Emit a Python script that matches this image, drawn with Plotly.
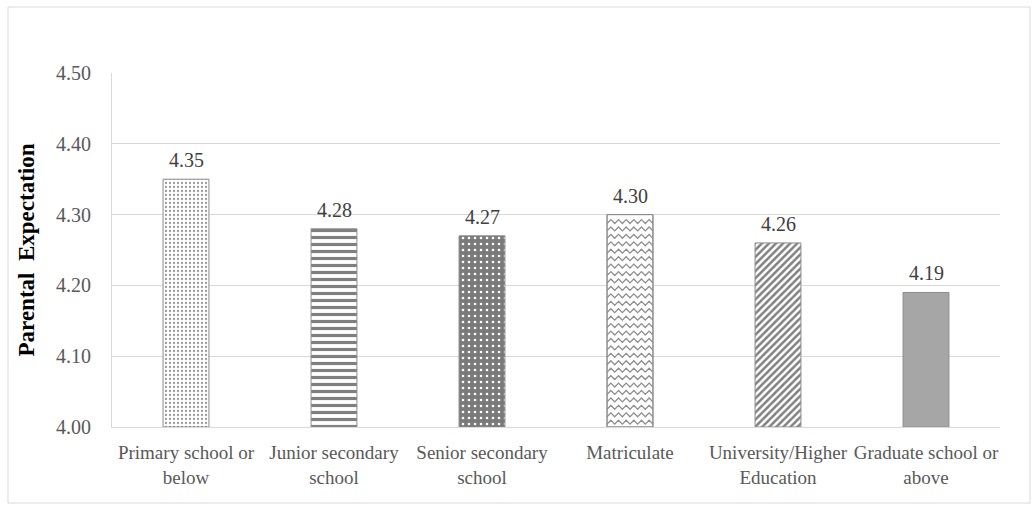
import numpy as np
import plotly.graph_objects as go

# Education level of parents and mean parental expectation score
categories = [
    "Primary school or<br>below",
    "Junior secondary<br>school",
    "Senior secondary<br>school",
    "Matriculate",
    "University/Higher<br>Education",
    "Graduate school or<br>above",
]
values = [4.35, 4.28, 4.27, 4.30, 4.26, 4.19]
y_ticks = [4.00, 4.10, 4.20, 4.30, 4.40, 4.50]

SERIF = "Times New Roman"
EDGE = "#8c8c8c"
BAR_WIDTH = 0.31
BASE = y_ticks[0]

# fill style per bar
patterns = [
    dict(shape=".", fgcolor="#9a9a9a", bgcolor="#ffffff", size=4, solidity=0.25),
    dict(shape="-", fgcolor="#7f7f7f", bgcolor="#ffffff", size=7, solidity=0.45),
    dict(shape=".", fgcolor="#ffffff", bgcolor="#7a7a7a", size=6, solidity=0.15),
    None,
    dict(shape="/", fgcolor="#808080", bgcolor="#ffffff", size=5, solidity=0.5),
    None,
]
fill_colors = ["#ffffff", "#ffffff", "#7a7a7a", "#ffffff", "#ffffff", "#a6a6a6"]

x_pos = np.arange(len(categories))

fig = go.Figure()
for i, (v, pat, col) in enumerate(zip(values, patterns, fill_colors)):
    marker = dict(color=col, line=dict(color=EDGE, width=1))
    if pat is not None:
        marker["pattern"] = dict(fillmode="replace", **pat)
    fig.add_trace(
        go.Bar(
            x=[x_pos[i]],
            y=[v - BASE],
            base=BASE,
            width=BAR_WIDTH,
            marker=marker,
            hoverinfo="skip",
            showlegend=False,
        )
    )
    # value label above the bar
    fig.add_annotation(
        x=x_pos[i], y=v, text=f"{v:.2f}",
        showarrow=False, yanchor="bottom", yshift=6,
        font=dict(family=SERIF, size=20, color="#404040"),
    )

# zigzag hatching for the "Matriculate" bar
zi = 3
x0 = x_pos[zi] - BAR_WIDTH / 2
x1 = x_pos[zi] + BAR_WIDTH / 2
n_teeth = 6
row_step = 0.0105
amp = 0.0055
xs_row = np.linspace(x0, x1, 2 * n_teeth + 1)
zx, zy = [], []
row = BASE + 0.004
while row + amp < values[zi] - 0.002:
    ys_row = [row + (amp if k % 2 else 0.0) for k in range(len(xs_row))]
    zx += list(xs_row) + [None]
    zy += ys_row + [None]
    row += row_step
fig.add_trace(
    go.Scatter(
        x=zx, y=zy, mode="lines",
        line=dict(color="#8f8f8f", width=1.3),
        hoverinfo="skip", showlegend=False,
    )
)
# redraw outline above the zigzag
fig.add_trace(
    go.Scatter(
        x=[x0, x0, x1, x1, x0], y=[BASE, values[zi], values[zi], BASE, BASE],
        mode="lines", line=dict(color=EDGE, width=1),
        hoverinfo="skip", showlegend=False,
    )
)

fig.update_layout(
    width=1032,
    height=510,
    margin=dict(l=112, r=32, t=73, b=83),
    paper_bgcolor="#ffffff",
    plot_bgcolor="#ffffff",
    font=dict(family=SERIF, color="#595959"),
    barmode="overlay",
    xaxis=dict(
        tickmode="array",
        tickvals=list(x_pos),
        ticktext=categories,
        range=[-0.5, len(categories) - 0.5],
        showgrid=False,
        zeroline=False,
        showline=True,
        linecolor="#d9d9d9",
        linewidth=1,
        ticks="",
        ticklabelstandoff=8,
        tickfont=dict(family=SERIF, size=19, color="#595959"),
    ),
    yaxis=dict(
        range=[y_ticks[0], y_ticks[-1]],
        tickvals=y_ticks,
        ticktext=[f"{t:.2f}" for t in y_ticks],
        showgrid=True,
        gridcolor="#d9d9d9",
        gridwidth=1,
        zeroline=False,
        showline=True,
        linecolor="#d9d9d9",
        ticks="",
        ticklabelstandoff=16,
        tickfont=dict(family=SERIF, size=20, color="#595959"),
        title=dict(
            text="<b>Parental  Expectation</b>",
            font=dict(family=SERIF, size=23, color="#000000"),
            standoff=14,
        ),
    ),
)

# chart frame
fig.add_shape(
    type="rect", xref="paper", yref="paper",
    x0=-104 / 888, x1=1 + 30 / 888,
    y0=-76 / 354, y1=1 + 66 / 354,
    line=dict(color="#d9d9d9", width=1),
    fillcolor="rgba(0,0,0,0)", layer="below",
)

fig.write_html("out.html")
